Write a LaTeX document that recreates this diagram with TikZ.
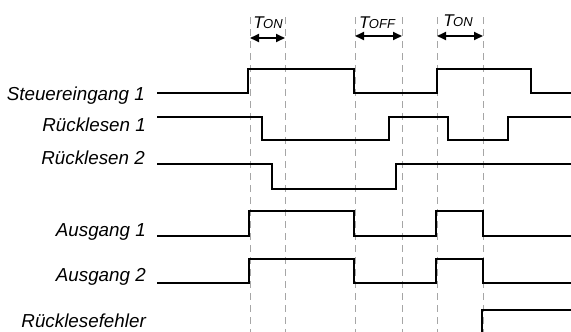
\documentclass[tikz,border=0pt]{standalone}
\usepackage{fontspec}
\setmainfont{Liberation Sans}
\usetikzlibrary{arrows.meta}
\begin{document}
\begin{tikzpicture}[x=1pt,y=-1pt,
  sig/.style={line width=2.2pt, line join=miter, black},
  guide/.style={black!35, line width=1pt, dash pattern=on 7pt off 5pt},
  lbl/.style={anchor=base east, font=\fontsize{18.8}{21}\selectfont\itshape, inner sep=0pt},
  dur/.style={{Triangle[length=9pt,width=8pt]}-{Triangle[length=9pt,width=8pt]}, line width=2pt},
  tlbl/.style={anchor=base, inner sep=0pt, font=\itshape}]
\useasboundingbox (0,0) rectangle (571,332);
\clip (0,0) rectangle (571,332);
% guide lines
\foreach \gx in {250,285,355,402,437,483} {
  \draw[guide] (\gx,17) -- (\gx,332);
}
% duration arrows
\coordinate (d1l) at (250,38); \coordinate (d1r) at (285,38);
\coordinate (d2l) at (355,36); \coordinate (d2r) at (402,36);
\coordinate (d3l) at (437,36); \coordinate (d3r) at (483,36);
\draw[dur] (d1l) -- (d1r);
\draw[dur] (d2l) -- (d2r);
\draw[dur] (d3l) -- (d3r);
\node[tlbl] (t1) at (268,28) {\fontsize{17}{17}\selectfont T\kern-0.5pt\fontsize{13}{13}\selectfont ON};
\node[tlbl] (t2) at (377,28) {\fontsize{17}{17}\selectfont T\kern-0.5pt\fontsize{13}{13}\selectfont OFF};
\node[tlbl] (t3) at (458,27) {\fontsize{17}{17}\selectfont T\kern-0.5pt\fontsize{13}{13}\selectfont ON};
% labels
\node[lbl] (l1) at (145,100) {Steuereingang 1};
\node[lbl] (l2) at (146,131) {Rücklesen 1};
\node[lbl] (l3) at (145,164) {Rücklesen 2};
\node[lbl] (l4) at (146,236) {Ausgang 1};
\node[lbl] (l5) at (146,281) {Ausgang 2};
\node[lbl] (l6) at (146,327) {Rücklesefehler};
% signals
\draw[sig] (157,93) -- (248,93) -- (248,69) -- (354,69) -- (354,93) -- (437,93) -- (437,69) -- (531,69) -- (531,93) -- (571,93);
\draw[sig] (157,117) -- (262,117) -- (262,140) -- (389,140) -- (389,117) -- (448,117) -- (448,140) -- (508,140) -- (508,117) -- (571,117);
\draw[sig] (157,164) -- (272,164) -- (272,189) -- (396,189) -- (396,164) -- (571,164);
\draw[sig] (157,236) -- (249,236) -- (249,211) -- (354,211) -- (354,236) -- (436,236) -- (436,211) -- (483,211) -- (483,236) -- (571,236);
\draw[sig] (157,283) -- (249,283) -- (249,259) -- (354,259) -- (354,283) -- (436,283) -- (436,259) -- (483,259) -- (483,283) -- (571,283);
\draw[sig] (157,333.6) -- (482,333.6) -- (482,310) -- (571,310);
\end{tikzpicture}
\end{document}
